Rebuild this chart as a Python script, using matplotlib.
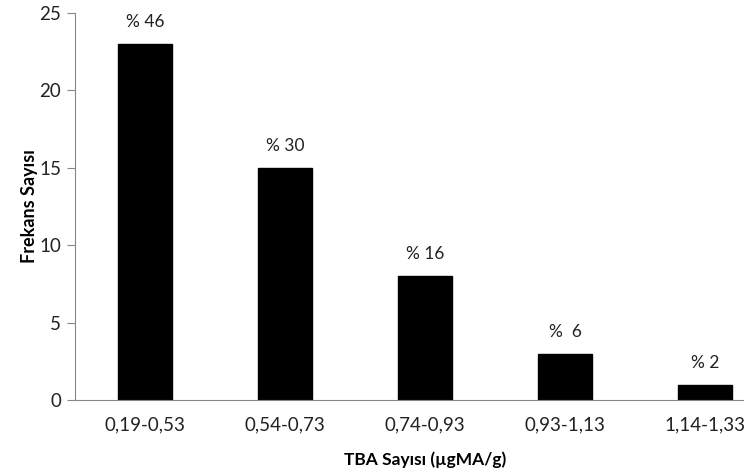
import matplotlib.pyplot as plt
import matplotlib as mpl

mpl.rcParams.update({'font.family': ['Lato', 'DejaVu Sans'], 'font.size': 12})

categories = ['0,19-0,53', '0,54-0,73', '0,74-0,93', '0,93-1,13', '1,14-1,33']
counts = [23, 15, 8, 3, 1]
percent_labels = ['% 46', '% 30', '% 16', '%  6', '% 2']

grey = '#868686'

fig = plt.figure(figsize=(7.44, 4.76), dpi=100)
ax = fig.add_axes([75 / 744, 76 / 476, 700 / 744, 387 / 476])

x = range(len(categories))
ax.bar(x, counts, width=0.39, color='black', edgecolor='black')

for i, (c, lab) in enumerate(zip(counts, percent_labels)):
    ax.text(i, c + 1.4, lab, ha='center', va='center', fontsize=12.5, color='#222222')

ax.set_xlim(-0.5, 4.5)
ax.set_ylim(0, 25)
ax.set_yticks([0, 5, 10, 15, 20, 25])
ax.set_xticks(list(x))
ax.set_xticklabels(categories)

ax.spines['top'].set_visible(False)
ax.spines['right'].set_visible(False)
ax.spines['left'].set_color(grey)
ax.spines['bottom'].set_color(grey)
ax.tick_params(axis='y', colors=grey, labelcolor='#222222', length=6,
               direction='out', labelsize=13.5, pad=4)
ax.tick_params(axis='x', length=0, labelcolor='#222222', labelsize=13.5, pad=12)

ax.set_xlabel('TBA Sayısı (µgMA/g)', fontweight='bold', fontsize=12.5, labelpad=13)
ax.set_ylabel('Frekans Sayısı', fontweight='bold', fontsize=13, labelpad=1)

fig.savefig('out.png', dpi=100)
